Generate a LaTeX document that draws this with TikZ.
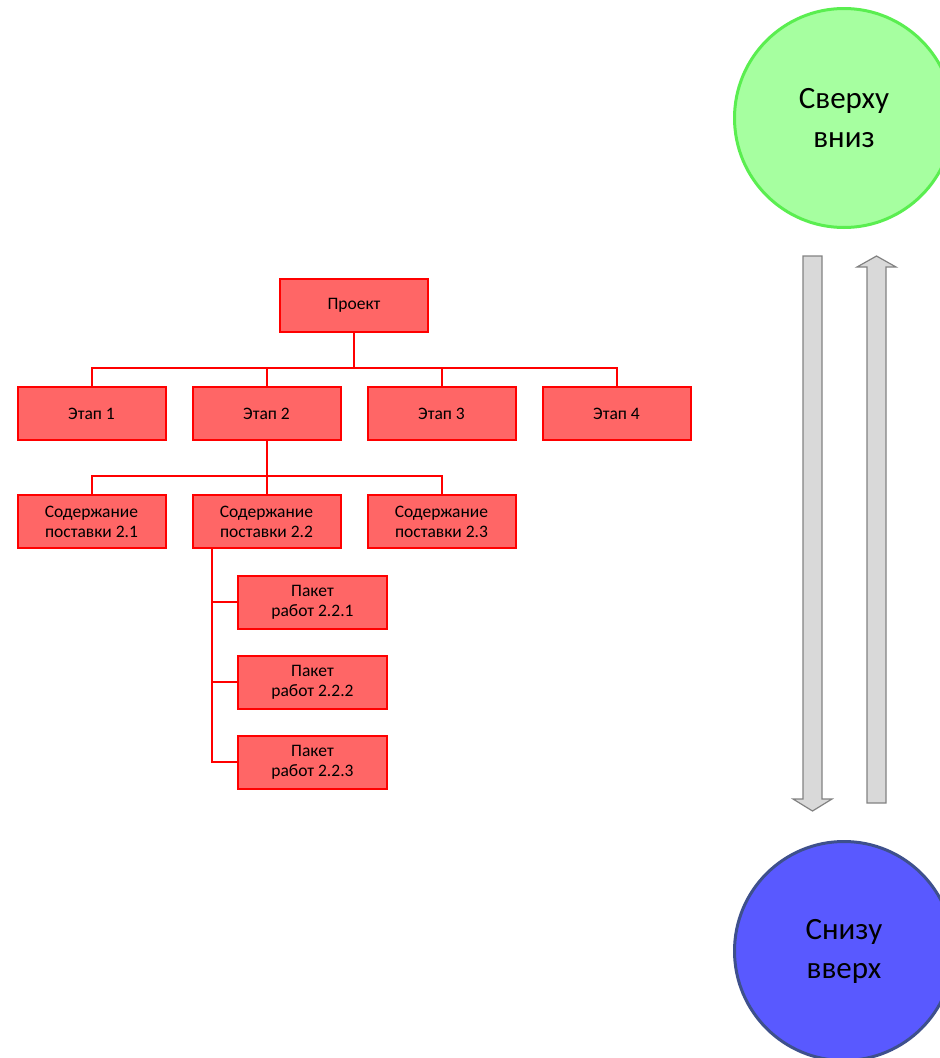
\documentclass[tikz,border=0pt]{standalone}
\usepackage{fontspec}
\setmainfont{Carlito}
\usetikzlibrary{trees,positioning}
\definecolor{boxfill}{RGB}{255,102,102}
\definecolor{boxline}{RGB}{255,0,0}
\definecolor{topfill}{RGB}{166,255,160}
\definecolor{topline}{RGB}{90,238,80}
\definecolor{botfill}{RGB}{89,89,255}
\definecolor{botline}{RGB}{62,80,140}
\definecolor{arrowfill}{RGB}{217,217,217}
\definecolor{arrowline}{RGB}{130,130,130}
\begin{document}
\begin{tikzpicture}[x=1pt,y=1pt,
                    box/.style={draw=boxline,fill=boxfill,line width=2pt,minimum width=148pt,minimum height=53pt,align=center,font=\fontsize{17.5}{20}\selectfont},
                    link/.style={draw=boxline,line width=2pt},
                    bigarrow/.style={draw=arrowline,fill=arrowfill,line width=1.2pt},
                    level 1/.style={sibling distance=175pt},
                    level 2/.style={sibling distance=175pt},
                    level distance=108pt,every child node/.style={box},
                    edge from parent/.style={link},
                    edge from parent path={(\tikzparentnode.south) -- +(0,-35) -| (\tikzchildnode.north)}]
\useasboundingbox (0,0) rectangle (940,-1058);

\node[box] (proj) at (354,-305.5) {Проект}
child{node(e1){Этап 1}}
child{node(e2){Этап 2}
child{node(s21){Содержание\\поставки 2.1}}
child{node(s22){Содержание\\поставки 2.2}}
child{node(s23){Содержание\\поставки 2.3}}}
child{node(e3){Этап 3}}
child{node(e4){Этап 4}};

% work packages
\node[box,minimum width=149pt] (p1) at (312.5,-602) {Пакет\\работ 2.2.1};
\node[box,minimum width=149pt,below=25pt of p1] (p2) {Пакет\\работ 2.2.2};
\node[box,minimum width=149pt,below=25pt of p2] (p3) {Пакет\\работ 2.2.3};
\draw[link] ([xshift=20pt]s22.south west) |- (p1.west);
\draw[link] ([xshift=20pt]s22.south west) |- (p2.west);
\draw[link] ([xshift=20pt]s22.south west) |- (p3.west);

% circles
\node[circle,minimum size=219pt,draw=topline,fill=topfill,line width=3pt,align=center,
      font=\fontsize{31}{39}\selectfont] (top) at (844,-118) {Сверху\\вниз};
\node[circle,minimum size=219pt,draw=botline,fill=botfill,line width=3pt,align=center,
      font=\fontsize{31}{39}\selectfont] (bot) at (844,-951) {Снизу\\вверх};

% arrows
\draw[bigarrow] (803,-256) -- (822,-256) -- (822,-799) -- (832,-799) -- (812.5,-811)
                -- (793,-799) -- (803,-799) -- cycle;
\draw[bigarrow] (867,-803) -- (886,-803) -- (886,-267) -- (896,-267) -- (876.5,-256)
                -- (857,-267) -- (867,-267) -- cycle;
\end{tikzpicture}
\end{document}
